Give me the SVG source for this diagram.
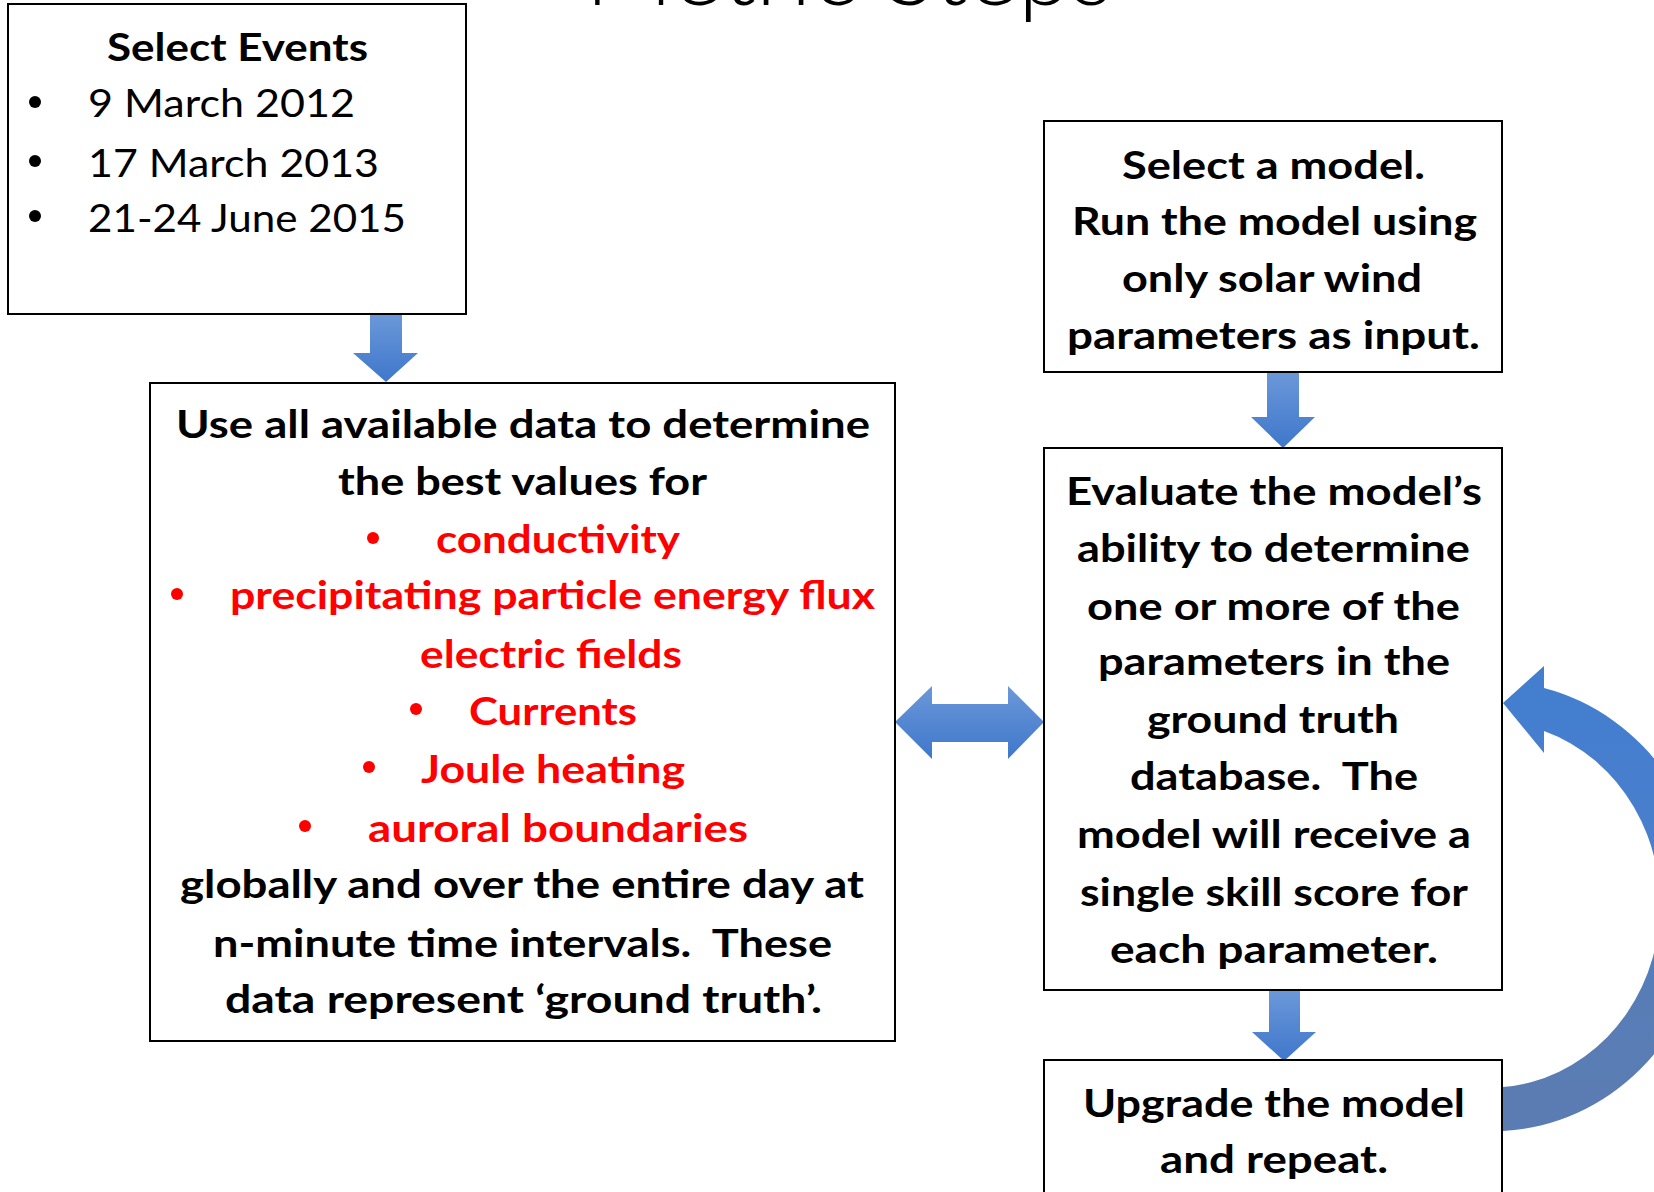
<svg xmlns="http://www.w3.org/2000/svg" width="1654" height="1192" viewBox="0 0 1654 1192">
  <defs>
    <linearGradient id="blueV" x1="0" y1="0" x2="0" y2="1">
      <stop offset="0" stop-color="#6b98d9"/>
      <stop offset="1" stop-color="#3f77cb"/>
    </linearGradient>
    <linearGradient id="loopGrad" gradientUnits="userSpaceOnUse" x1="0" y1="666" x2="0" y2="1131">
      <stop offset="0" stop-color="#437ed0"/>
      <stop offset="0.45" stop-color="#4a7fcb"/>
      <stop offset="0.72" stop-color="#587db6"/>
      <stop offset="1" stop-color="#5b7cb2"/>
    </linearGradient>
    <style>
      .box { fill: #ffffff; stroke: #000000; stroke-width: 2; }
      .b { font-family: Lato, "Open Sans", "Liberation Sans", sans-serif; font-weight: bold; font-size: 39px; fill: #000000; }
      .r { font-family: Lato, "Open Sans", "Liberation Sans", sans-serif; font-weight: normal; font-size: 39px; fill: #000000; }
      .red { fill: #ff0000; }
      .dot { fill: #000000; }
      .reddot { fill: #ff0000; }
      .title { font-family: Lato, "Open Sans", "Liberation Sans", sans-serif; font-weight: 300; font-size: 96px; fill: #000000; }
    </style>
  </defs>

  <rect width="1654" height="1192" fill="#ffffff"/>

  <!-- page heading, mostly above the top edge -->
  <text class="title" x="585" y="5" textLength="528" lengthAdjust="spacingAndGlyphs">Metric Steps</text>

  <!-- block arrows between the steps -->
  <g id="connectors">
    <path id="arrow-events-truth" fill="url(#blueV)" d="M370,314 H402 V353 H418 L386,382 L353,353 H370 Z"/>
    <path id="arrow-select-evaluate" fill="url(#blueV)" d="M1267,372 H1299 V417 H1315 L1283,448 L1251,417 H1267 Z"/>
    <path id="arrow-evaluate-upgrade" fill="url(#blueV)" d="M1269,990 H1300 V1032 H1316 L1284,1061 L1252,1032 H1269 Z"/>
    <path id="arrow-truth-evaluate" fill="url(#blueV)" d="M895,722 L932,686 V704 H1008 V686 L1044,722 L1008,759 V742 H932 V759 Z"/>
    <path id="arrow-repeat-loop" fill="url(#loopGrad)" d="M1503,1131 A215,225 0 0 0 1544,688 L1544,666 L1503,703 L1544,753 L1544,731 A170,183 0 0 1 1503,1087 Z"/>
  </g>

  <g id="select-events">
    <rect class="box" x="8" y="4" width="458" height="310"/>
    <text class="b" x="107" y="61" textLength="261" lengthAdjust="spacingAndGlyphs">Select Events</text>
    <circle class="dot" cx="35" cy="102" r="6"/>
    <text class="r" x="88" y="117" textLength="267" lengthAdjust="spacingAndGlyphs">9 March 2012</text>
    <circle class="dot" cx="35" cy="161" r="6"/>
    <text class="r" x="88" y="177" textLength="291" lengthAdjust="spacingAndGlyphs">17 March 2013</text>
    <circle class="dot" cx="35" cy="216" r="6"/>
    <text class="r" x="88" y="232" textLength="318" lengthAdjust="spacingAndGlyphs">21-24 June 2015</text>
  </g>

  <g id="ground-truth">
    <rect class="box" x="150" y="383" width="745" height="658"/>
    <text class="b" x="176" y="438" textLength="694" lengthAdjust="spacingAndGlyphs">Use all available data to determine</text>
    <text class="b" x="338" y="495" textLength="369" lengthAdjust="spacingAndGlyphs">the best values for</text>
    <circle class="reddot" cx="373" cy="538" r="6"/>
    <text class="b red" x="436" y="553" textLength="244" lengthAdjust="spacingAndGlyphs">conductivity</text>
    <circle class="reddot" cx="177" cy="594" r="6"/>
    <text class="b red" x="230" y="609" textLength="645" lengthAdjust="spacingAndGlyphs">precipitating particle energy flux</text>
    <text class="b red" x="420" y="668" textLength="262" lengthAdjust="spacingAndGlyphs">electric fields</text>
    <circle class="reddot" cx="416" cy="709" r="6"/>
    <text class="b red" x="469" y="725" textLength="168" lengthAdjust="spacingAndGlyphs">Currents</text>
    <circle class="reddot" cx="369" cy="767" r="6"/>
    <text class="b red" x="421" y="783" textLength="264" lengthAdjust="spacingAndGlyphs">Joule heating</text>
    <circle class="reddot" cx="305" cy="826" r="6"/>
    <text class="b red" x="368" y="842" textLength="380" lengthAdjust="spacingAndGlyphs">auroral boundaries</text>
    <text class="b" x="180" y="898" textLength="684" lengthAdjust="spacingAndGlyphs">globally and over the entire day at</text>
    <text class="b" x="213" y="957" textLength="619" lengthAdjust="spacingAndGlyphs" xml:space="preserve">n-minute time intervals.  These</text>
    <text class="b" x="225" y="1013" textLength="597" lengthAdjust="spacingAndGlyphs">data represent ‘ground truth’.</text>
  </g>

  <g id="select-model">
    <rect class="box" x="1044" y="121" width="458" height="251"/>
    <text class="b" x="1122" y="179" textLength="303" lengthAdjust="spacingAndGlyphs">Select a model.</text>
    <text class="b" x="1072" y="235" textLength="405" lengthAdjust="spacingAndGlyphs">Run the model using</text>
    <text class="b" x="1122" y="292" textLength="300" lengthAdjust="spacingAndGlyphs">only solar wind</text>
    <text class="b" x="1067" y="349" textLength="413" lengthAdjust="spacingAndGlyphs">parameters as input.</text>
  </g>

  <g id="evaluate-model">
    <rect class="box" x="1044" y="448" width="458" height="542"/>
    <text class="b" x="1066" y="505" textLength="416" lengthAdjust="spacingAndGlyphs">Evaluate the model’s</text>
    <text class="b" x="1077" y="562" textLength="393" lengthAdjust="spacingAndGlyphs">ability to determine</text>
    <text class="b" x="1087" y="620" textLength="373" lengthAdjust="spacingAndGlyphs">one or more of the</text>
    <text class="b" x="1098" y="675" textLength="352" lengthAdjust="spacingAndGlyphs">parameters in the</text>
    <text class="b" x="1147" y="733" textLength="252" lengthAdjust="spacingAndGlyphs">ground truth</text>
    <text class="b" x="1130" y="790" textLength="288" lengthAdjust="spacingAndGlyphs" xml:space="preserve">database.  The</text>
    <text class="b" x="1077" y="848" textLength="394" lengthAdjust="spacingAndGlyphs">model will receive a</text>
    <text class="b" x="1080" y="906" textLength="388" lengthAdjust="spacingAndGlyphs">single skill score for</text>
    <text class="b" x="1110" y="963" textLength="328" lengthAdjust="spacingAndGlyphs">each parameter.</text>
  </g>

  <g id="upgrade-model">
    <rect class="box" x="1044" y="1060" width="458" height="150"/>
    <text class="b" x="1083" y="1117" textLength="382" lengthAdjust="spacingAndGlyphs">Upgrade the model</text>
    <text class="b" x="1160" y="1173" textLength="228" lengthAdjust="spacingAndGlyphs">and repeat.</text>
  </g>
</svg>
